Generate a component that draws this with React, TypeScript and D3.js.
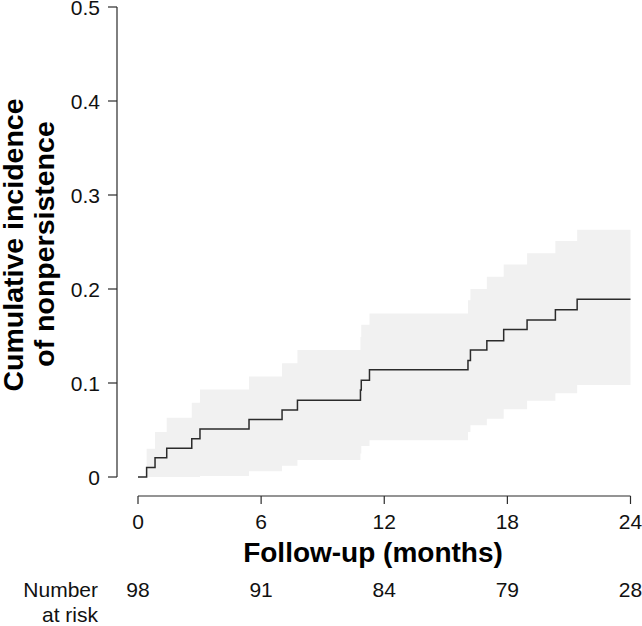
import React from "react";
import * as d3 from "d3";

// Step curve: event times (months) and cumulative incidence
const eventTimes = [0, 0.42, 0.83, 1.4, 2.62, 3.02, 5.41, 7.02, 7.77, 10.84, 10.88, 11.28, 16.08, 16.2, 17.0, 17.82, 18.96, 20.34, 21.4, 24];
const incidence = [0, 0.0102, 0.0204, 0.0306, 0.0408, 0.051, 0.0612, 0.0714, 0.0816, 0.0925, 0.103, 0.114, 0.124, 0.135, 0.145, 0.157, 0.167, 0.178, 0.189, 0.189];
// Confidence band (starts at first event; index 0 unused)
const lowerCI = [0, 0, 0, 0, 0, 0.001, 0.006, 0.012, 0.018, 0.025, 0.033, 0.039, 0.048, 0.055, 0.062, 0.072, 0.081, 0.089, 0.098, 0.106];
const upperCI = [0, 0.030, 0.048, 0.063, 0.079, 0.093, 0.107, 0.121, 0.135, 0.149, 0.162, 0.174, 0.188, 0.200, 0.213, 0.226, 0.238, 0.251, 0.263, 0.263];

const xTicks = [0, 6, 12, 18, 24];
const yTicks = [0, 0.1, 0.2, 0.3, 0.4, 0.5];
const yTickLabels = ["0", "0.1", "0.2", "0.3", "0.4", "0.5"];
const atRisk = [98, 91, 84, 79, 28];

const FONT = "'Liberation Sans', Arial, Helvetica, sans-serif";
const INK = "#2b2b2b";

export default function App() {
  const x = d3.scaleLinear().domain([0, 24]).range([138, 630.5]);
  const y = d3.scaleLinear().domain([0, 0.5]).range([477, 7]);

  const pts = eventTimes.map((t, i) => ({ t, v: incidence[i], lo: lowerCI[i], hi: upperCI[i] }));
  const bandPts = pts.slice(1);

  const area = d3
    .area<any>()
    .x((d) => x(d.t))
    .y0((d) => y(d.lo))
    .y1((d) => y(d.hi))
    .curve(d3.curveStepAfter);
  const line = d3
    .line<any>()
    .x((d) => x(d.t))
    .y((d) => y(d.v))
    .curve(d3.curveStepAfter);

  const axisX = 117;
  const axisY = 496;

  return (
    <svg
      width={642}
      height={626}
      style={{ position: "absolute", left: 0, top: 0, background: "#fff" }}
      fontFamily={FONT}
    >
      <path d={area(bandPts) || ""} fill="#f1f1f1" stroke="none" />
      <path d={line(pts) || ""} fill="none" stroke={INK} strokeWidth={1.5} />

      {/* y axis */}
      <line x1={axisX} x2={axisX} y1={y(0)} y2={y(0.5)} stroke={INK} strokeWidth={1.2} />
      {yTicks.map((t, i) => (
        <g key={"yt" + i}>
          <line x1={axisX - 9} x2={axisX} y1={y(t)} y2={y(t)} stroke={INK} strokeWidth={1.2} />
          <text x={100} y={y(t) + 7.5} textAnchor="end" fontSize={21} fill="#111">
            {yTickLabels[i]}
          </text>
        </g>
      ))}

      {/* x axis */}
      <line x1={x(0)} x2={x(24)} y1={axisY} y2={axisY} stroke={INK} strokeWidth={1.2} />
      {xTicks.map((t, i) => (
        <g key={"xt" + i}>
          <line x1={x(t)} x2={x(t)} y1={axisY} y2={axisY + 8} stroke={INK} strokeWidth={1.2} />
          <text x={x(t)} y={528.5} textAnchor="middle" fontSize={21} fill="#111">
            {t}
          </text>
          <text x={x(t)} y={596.5} textAnchor="middle" fontSize={21} fill="#111">
            {atRisk[i]}
          </text>
        </g>
      ))}

      <text x={373} y={562} textAnchor="middle" fontSize={28} fontWeight="bold" fill="#000">
        Follow-up (months)
      </text>

      <text x={98} y={596.5} textAnchor="end" fontSize={21} fill="#111">Number</text>
      <text x={98} y={622} textAnchor="end" fontSize={21} fill="#111">at risk</text>

      <g transform="translate(22.5,245) rotate(-90)">
        <text x={0} y={0} textAnchor="middle" fontSize={28.5} fontWeight="bold" fill="#000">
          Cumulative incidence
        </text>
      </g>
      <g transform="translate(54,244) rotate(-90)">
        <text x={0} y={0} textAnchor="middle" fontSize={28.5} fontWeight="bold" fill="#000">
          of nonpersistence
        </text>
      </g>
    </svg>
  );
}
